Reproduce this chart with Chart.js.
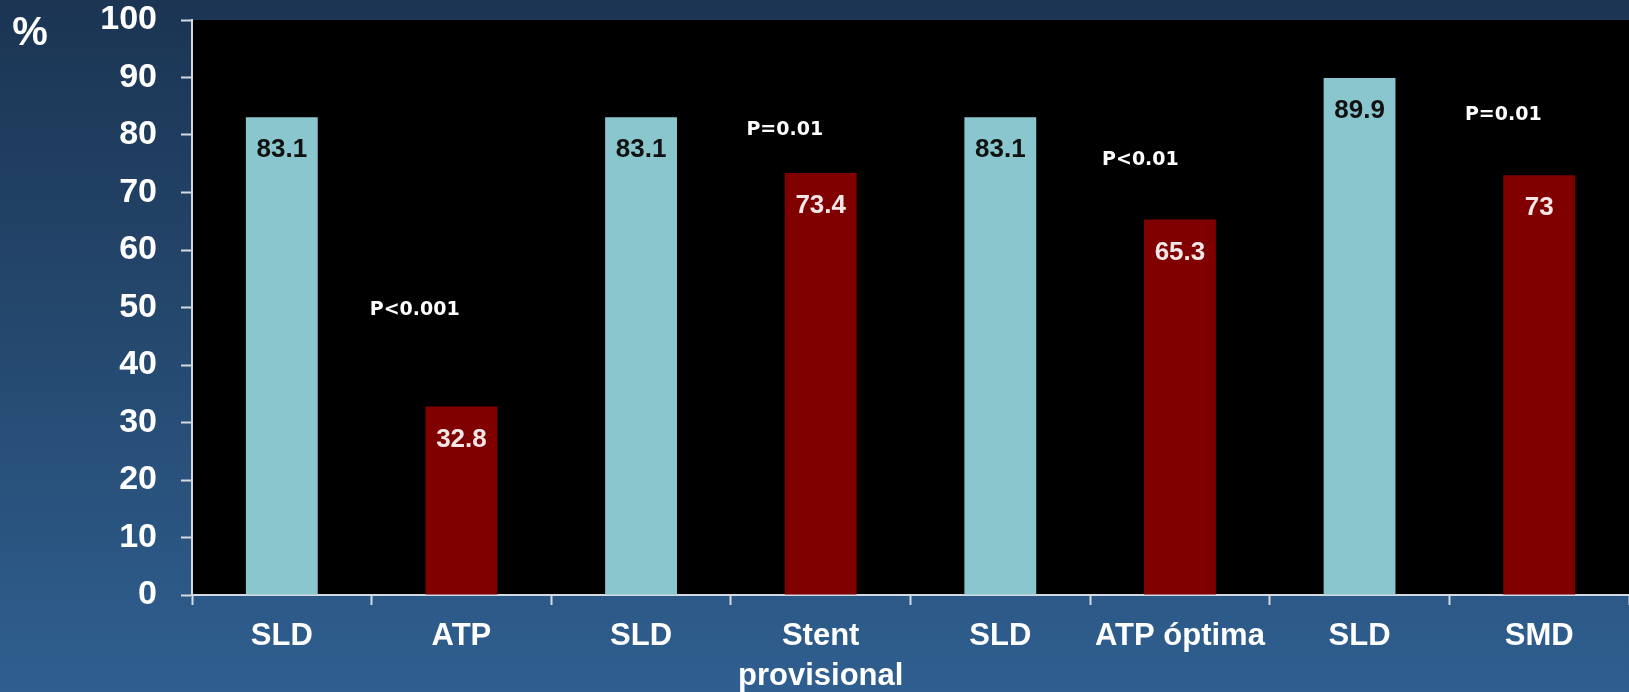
<!DOCTYPE html>
<html>
<head>
<meta charset="utf-8">
<script src="https://cdn.jsdelivr.net/npm/chart.js@4.4.1/dist/chart.umd.min.js"></script>
<style>
    html, body { margin: 0; padding: 0; background: #1b3654; }
    canvas { display: block; }
</style>
</head>
<body>
<canvas id="chart" width="1629" height="692"></canvas>
<script>
const categories = ['SLD', 'ATP', 'SLD', ['Stent', 'provisional'], 'SLD', 'ATP óptima', 'SLD', 'SMD'];
const values = [83.1, 32.8, 83.1, 73.4, 83.1, 65.3, 89.9, 73];
const yTicks = [0, 10, 20, 30, 40, 50, 60, 70, 80, 90, 100];

// p-value notes, placed in axis units (category index, %)
const pLabels = ['P<0.001', 'P=0.01', 'P<0.01', 'P=0.01'];
const pAtCategory = [0.74, 2.8, 4.78, 6.8];
const pAtValue = [49.6, 80.9, 75.7, 83.5];

const lightBar = '#8ac6ce';
const darkBar = '#800000';
const barColors = values.map((v, i) => i % 2 === 0 ? lightBar : darkBar);

const backdrop = {
    id: 'backdrop',
    beforeDraw(chart) {
        const { ctx, width, height, chartArea } = chart;
        const grad = ctx.createLinearGradient(0, 0, 0, height);
        grad.addColorStop(0, '#1b3553');
        grad.addColorStop(0.5, '#25496f');
        grad.addColorStop(1, '#2f5f90');
        ctx.save();
        ctx.fillStyle = grad;
        ctx.fillRect(0, 0, width, height);
        ctx.fillStyle = '#000000';
        ctx.fillRect(chartArea.left, chartArea.top, chartArea.right - chartArea.left, chartArea.bottom - chartArea.top);

        ctx.fillStyle = '#ffffff';
        ctx.font = 'bold 40px "Liberation Sans", Arial, sans-serif';
        ctx.textAlign = 'center';
        ctx.textBaseline = 'middle';
        ctx.fillText('%', 30, 34);
        ctx.restore();
    }
};

const labels = {
    id: 'labels',
    afterDatasetsDraw(chart) {
        const { ctx } = chart;
        const x = chart.scales.x;
        const y = chart.scales.y;
        ctx.save();
        ctx.textAlign = 'center';
        ctx.textBaseline = 'middle';

        ctx.font = 'bold 26px "Liberation Sans", Arial, sans-serif';
        values.forEach((v, i) => {
            ctx.fillStyle = i % 2 === 0 ? '#111111' : '#f3e6e6';
            ctx.fillText(String(v), x.getPixelForValue(i), y.getPixelForValue(v) + 33);
        });

        ctx.fillStyle = '#ffffff';
        ctx.font = 'bold 19px "DejaVu Sans", Verdana, sans-serif';
        pLabels.forEach((t, i) => {
            ctx.fillText(t, x.getPixelForValue(pAtCategory[i]), y.getPixelForValue(pAtValue[i]));
        });
        ctx.restore();
    }
};

new Chart(document.getElementById('chart'), {
    type: 'bar',
    data: {
        labels: categories,
        datasets: [{
            data: values,
            backgroundColor: barColors,
            borderWidth: 0,
            barPercentage: 0.4,
            categoryPercentage: 1
        }]
    },
    options: {
        responsive: false,
        devicePixelRatio: 1,
        animation: false,
        layout: { padding: 0 },
        plugins: {
            legend: { display: false },
            tooltip: { enabled: false }
        },
        scales: {
            x: {
                afterFit(scale) { scale.height = 97; },
                border: { color: '#d4dae2', width: 2 },
                grid: {
                    offset: true,
                    drawOnChartArea: false,
                    drawTicks: true,
                    tickLength: 10,
                    tickWidth: 2,
                    tickColor: '#d4dae2'
                },
                ticks: {
                    color: '#ffffff',
                    padding: 11,
                    maxRotation: 0,
                    autoSkip: false,
                    font: { family: '"Liberation Sans", Arial, sans-serif', size: 31, weight: 'bold', lineHeight: '40px' }
                }
            },
            y: {
                min: 0,
                max: 100,
                afterFit(scale) {
                    scale.width = 192;
                    scale.paddingTop = 20;
                },
                afterBuildTicks(scale) { scale.ticks = yTicks.map(v => ({ value: v })); },
                border: { color: '#d4dae2', width: 2 },
                grid: {
                    drawOnChartArea: false,
                    drawTicks: true,
                    tickLength: 11,
                    tickWidth: 2,
                    tickColor: '#d4dae2'
                },
                ticks: {
                    color: '#ffffff',
                    padding: 24,
                    font: { family: '"Liberation Sans", Arial, sans-serif', size: 34, weight: 'bold', lineHeight: 1 }
                }
            }
        }
    },
    plugins: [backdrop, labels]
});
</script>
</body>
</html>
